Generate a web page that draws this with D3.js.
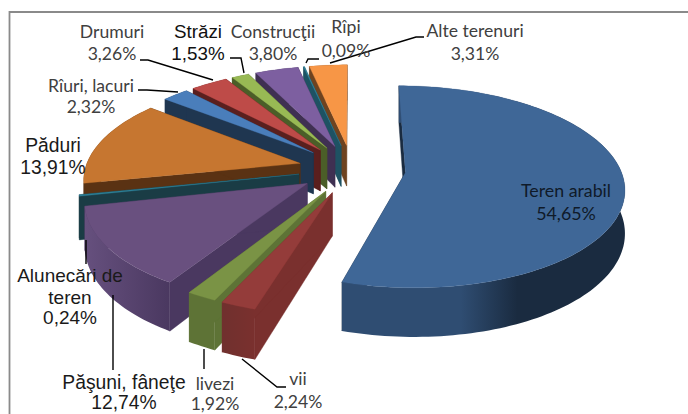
<!DOCTYPE html>
<html><head><meta charset="utf-8">
<style>html,body{margin:0;padding:0;background:#fff;overflow:hidden}svg{display:block}</style>
<script src="https://cdn.jsdelivr.net/npm/d3@7/dist/d3.min.js"></script>
</head><body><svg id="c" width="688" height="414"></svg>
<script>
const categories=["Teren arabil","vii","livezi","Păşuni, fâneţe","Alunecări de teren","Păduri","Rîuri, lacuri","Drumuri","Străzi","Construcţii","Rîpi","Alte terenuri"];
const values=[54.65,2.24,1.92,12.74,0.24,13.91,2.32,3.26,1.53,3.80,0.09,3.31];
const valueLabels=["54,65%","2,24%","1,92%","12,74%","0,24%","13,91%","2,32%","3,26%","1,53%","3,80%","0,09%","3,31%"];
const topColors=["#3F6797","#943C3A","#7A9345","#69507F","#2C7F96","#C67630","#4A7EBB","#BE4B48","#98B954","#7D5FA0","#31859C","#F79646"];
const wallColors=["#1A2B40","#7A302E","#5E7336","#4A3860","#1A3C45","#5A3213","#1F3650","#5A1F1E","#4B5E28","#3F3052","#1E5263","#6E4320"];
const wallLight=["#2F4D72","#70302E","#5E7336","#66507E","#1A3C45","#5A3213","#1F3650","#5A1F1E","#4B5E28","#3F3052","#1E5263","#6E4320"];

const W=688,H=414,CX=352,CY=169,RX=215,RY=98,P=0.14,DEPTH=42,EXPLODE=0.25;
const svg=d3.select("#c");
const defs=svg.append("defs");
svg.append("path").attr("d",`M9.5 ${H}V12H${W}`).attr("fill","none").attr("stroke","#8a8a8a").attr("stroke-width",1.8);

const arcs=d3.pie().sort(null).startAngle(0).endAngle(2*Math.PI)(values);
const proj=(X,Y,z=0)=>{const w=1-P*Y;return [CX+RX*X/w,CY+RY*Y/w+z*DEPTH/w];};
const line=d3.line();
const slices=arcs.map((a,i)=>{
  const mid=(a.startAngle+a.endAngle)/2;
  const ax=EXPLODE*Math.sin(mid),ay=-EXPLODE*Math.cos(mid);
  const steps=d3.range(0,1.0001,1/Math.max(6,Math.ceil((a.endAngle-a.startAngle)*40)));
  const rim=steps.map(t=>{const th=a.startAngle+t*(a.endAngle-a.startAngle);return [ax+Math.sin(th),ay-Math.cos(th)];});
  return {i,ax,ay,rim};
}).sort((p,q)=>p.ay-q.ay);

slices.forEach(s=>{
  const g=svg.append("g");
  const {i,ax,ay,rim}=s;
  const top=rim.map(p=>proj(p[0],p[1],0));
  const bot=rim.map(p=>proj(p[0],p[1],1));
  const apexT=proj(ax,ay,0),apexB=proj(ax,ay,1);
  const wall=wallColors[i];
  g.append("path").attr("d",line([apexT,top[0],bot[0],apexB])+"Z").attr("fill",wall).attr("stroke",wall).attr("stroke-width",.4);
  g.append("path").attr("d",line([apexT,top[top.length-1],bot[bot.length-1],apexB])+"Z").attr("fill",wall).attr("stroke",wall).attr("stroke-width",.4);
  const xs=top.map(p=>p[0]);
  const grad=defs.append("linearGradient").attr("id","w"+i).attr("gradientUnits","userSpaceOnUse")
    .attr("x1",d3.min(xs)).attr("x2",d3.max(xs)).attr("y1",0).attr("y2",0);
  if(i===0){
    grad.append("stop").attr("offset",.42).attr("stop-color",wallLight[i]);
    grad.append("stop").attr("offset",.62).attr("stop-color",wallColors[i]);
  }else{
    grad.append("stop").attr("offset",0).attr("stop-color",wallLight[i]);
    grad.append("stop").attr("offset",1).attr("stop-color",wallColors[i]);
  }
  g.append("path").attr("d",line(top.concat(bot.slice().reverse()))+"Z").attr("fill",`url(#w${i})`);
  g.append("path").attr("d",line([apexT,...top])+"Z").attr("fill",topColors[i]).attr("stroke",topColors[i]).attr("stroke-width",.3);
});

const leaders=[
 [[140,60],[148,60],[213,80]],[[230,58],[241,58],[244,73]],[[306,63],[308,59],[319,59]],
 [[330,63],[416,37],[424,37]],[[138,90],[147,90],[178,92]],[[86,240],[86,264]],
 [[113,295],[113,370]],[[204,349],[204,369]],[[242,359],[277,387],[286,387]]];
leaders.forEach(l=>svg.append("path").attr("d",line(l)).attr("fill","none").attr("stroke","#000").attr("stroke-width",1.4));

const CAL="Lato, sans-serif",ARI="'Liberation Sans', Arial, sans-serif";
const labelLayout=[
 {i:0,x:566,y:[197,220],f:CAL,s:17.8,c:"#0f1a29"},
 {i:1,x:298,y:[385,408],f:CAL,s:17.6,c:"#404040"},
 {i:2,x:215,y:[390,410],f:CAL,s:17.6,c:"#404040"},
 {i:3,x:124,y:[389,409],f:ARI,s:19.3,c:"#1a1a1a"},
 {i:4,x:70,y:[282,304,324],f:ARI,s:19,c:"#1a1a1a",split:["Alunecări de","teren"]},
 {i:5,x:53,y:[152,174],f:ARI,s:19.3,c:"#1a1a1a"},
 {i:6,x:91,y:[92,113],f:CAL,s:17.6,c:"#404040"},
 {i:7,x:112,y:[38,60],f:CAL,s:17.6,c:"#404040"},
 {i:8,x:198,y:[38,60],f:ARI,s:18.8,c:"#111"},
 {i:9,x:273,y:[38,60],f:CAL,s:17.6,c:"#404040"},
 {i:10,x:346,y:[33,57],f:CAL,s:17.6,c:"#404040"},
 {i:11,x:475,y:[37,60],f:CAL,s:17.6,c:"#404040"}];
labelLayout.forEach(l=>{
  const lines=(l.split||[categories[l.i]]).concat(valueLabels[l.i]);
  lines.forEach((t,k)=>svg.append("text").attr("x",l.x).attr("y",l.y[k]).attr("text-anchor","middle")
    .attr("font-family",l.f).attr("font-size",l.s).attr("fill",l.c).text(t));
});
</script></body></html>
